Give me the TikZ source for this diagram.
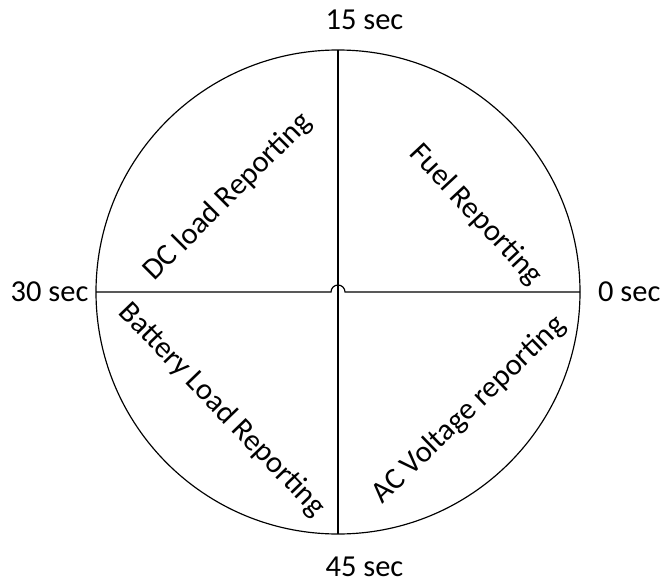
\documentclass[tikz,border=0pt]{standalone}
\usepackage{fontspec}
\setmainfont{Carlito}
\usetikzlibrary{positioning,calc}

\begin{document}
\begin{tikzpicture}[x=0.03cm,y=-0.03cm,font=\fontsize{26}{30}\selectfont,line width=1pt]
\useasboundingbox (0,0) rectangle (664,586);
\coordinate (c) at (338,292);
\coordinate (top) at (338,50);
\coordinate (bot) at (338,534);
\coordinate (lft) at (96,292);
\coordinate (rgt) at (580,292);
\draw (c) circle[radius=242*0.03cm];
\draw (top)--(bot);
\draw (lft)--($(c)+(-7,0)$) arc[start angle=180,end angle=0,radius=7*0.03cm]--(rgt);
% time marks
\node[anchor=west,inner sep=0pt] (t15) at (325,20) {15 sec};
\node[anchor=west,inner sep=0pt] (t45) at (325,567) {45 sec};
\node[left=6pt of lft,inner sep=0pt] (t30) {30 sec};
\node[right=15pt of rgt,inner sep=0pt] (t0) {0 sec};
% quadrants
\node[rotate=45] (dc) at (228,197) {DC load Reporting};
\node[rotate=-47] (fuel) at (476,215) {Fuel Reporting};
\node[rotate=-46] (bat) at (222,410) {Battery Load Reporting};
\node[rotate=44] (ac) at (469,410) {AC Voltage reporting};
\end{tikzpicture}
\end{document}
